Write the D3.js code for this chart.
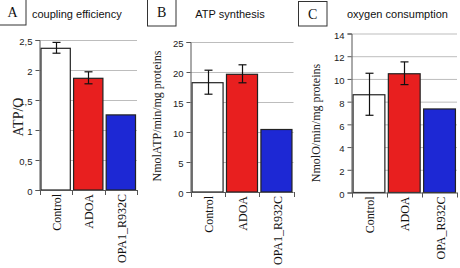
<!DOCTYPE html>
<html>
<head lang="en">
    <meta charset="UTF-8">
    <title></title>
    <script src="https://cdn.jsdelivr.net/npm/d3@7"></script>
    <style>
        body{margin:0;background:#fff;}
    </style>
</head>
<body>
</body>
</html>
<script>
    var catsAB=["Control","ADOA","OPA1_R932C"];
    var catsC=["Control","ADOA","OPA_R932C"];
    var couplingVal=[2.37,1.87,1.26];
    var couplingErr=[0.09,0.10,0];
    var atpVal=[18.3,19.7,10.5];
    var atpErr=[2.0,1.5,0];
    var oxyVal=[8.65,10.5,7.4];
    var oxyErr=[1.85,1.0,0];
    var couplingTicks=[0,0.5,1,1.5,2,2.5];
    var atpTicks=[0,5,10,15,20,25];
    var oxyTicks=[0,2,4,6,8,10,12,14];
    var colors=["#ffffff","#e81f1f","#1d28d4"];

    var panels=[
        {letter:"A",title:"coupling efficiency",ytitle:"ATP/O",cats:catsAB,val:couplingVal,err:couplingErr,ticks:couplingTicks,
            max:2.5,x0:39.5,x1:137,y0:190,y1:40,box:[-1,-1,27,26],titleX:32,titleAnchor:"start",ytX:18,ytY:117,ytSize:14},
        {letter:"B",title:"ATP synthesis",ytitle:"NmolATP/min/mg proteins",cats:catsAB,val:atpVal,err:atpErr,ticks:atpTicks,
            max:25,x0:190.5,x1:293.5,y0:192,y1:42,box:[147.5,-1,28.5,27],titleX:230,titleAnchor:"middle",ytX:157,ytY:116,ytSize:12},
        {letter:"C",title:"oxygen consumption",ytitle:"NmolO/min/mg proteins",cats:catsC,val:oxyVal,err:oxyErr,ticks:oxyTicks,
            max:14,x0:351.5,x1:457,y0:192.5,y1:33.5,box:[298.5,1.5,28.5,24.5],titleX:347,titleAnchor:"start",ytX:316,ytY:123,ytSize:12}
    ];

    var svg=d3.select('body').append('svg')
            .attr('width',460)
            .attr('height',268);

    panels.forEach(function(p){
        var g=svg.append('g');
        var x=d3.scaleBand().domain(p.cats).range([p.x0,p.x1]).paddingInner(0.07).paddingOuter(0.03);
        var y=d3.scaleLinear().domain([0,p.max]).range([p.y0,p.y1]);

        // gridlines
        g.selectAll('.grid').data(p.ticks.filter(function(t){return t>0;}))
                .enter().append('line')
                .attr('x1',p.x0).attr('x2',p.x1)
                .attr('y1',function(d){return y(d)+0.5;})
                .attr('y2',function(d){return y(d)+0.5;})
                .attr('stroke','#bdbdbd').attr('stroke-width',1);

        // bars
        g.selectAll('.bar').data(p.val).enter().append('rect')
                .attr('x',function(d,i){return x(p.cats[i])+0.5;})
                .attr('y',function(d){return y(d)+0.5;})
                .attr('width',x.bandwidth()-1)
                .attr('height',function(d){return p.y0-y(d)-0.5;})
                .attr('fill',function(d,i){return colors[i];})
                .attr('stroke','#222').attr('stroke-width',1.2);

        // error bars
        p.val.forEach(function(v,i){
            if(!p.err[i]) return;
            var cx=Math.round(x(p.cats[i])+x.bandwidth()/2)+0.5;
            var eg=g.append('g').attr('stroke','#111').attr('stroke-width',1.2);
            eg.append('line').attr('x1',cx).attr('x2',cx).attr('y1',y(v+p.err[i])).attr('y2',y(v-p.err[i]));
            eg.append('line').attr('x1',cx-4).attr('x2',cx+4).attr('y1',y(v+p.err[i])).attr('y2',y(v+p.err[i]));
            eg.append('line').attr('x1',cx-4).attr('x2',cx+4).attr('y1',y(v-p.err[i])).attr('y2',y(v-p.err[i]));
        });

        // y axis
        var yAxis=d3.axisLeft(y).tickValues(p.ticks).tickSize(4).tickPadding(3)
                .tickFormat(function(d){return String(d).replace('.',',');});
        var ya=g.append('g').attr('transform','translate('+p.x0+',0)').call(yAxis);
        ya.select('.domain').attr('stroke','#555');
        ya.selectAll('.tick line').attr('stroke','#555');
        ya.selectAll('text').attr('font-family','Liberation Sans, Arial, sans-serif')
                .attr('font-size',9.5).attr('fill','#222').attr('dy','0.5em');

        // x axis baseline with boundary ticks
        var xa=g.append('g');
        xa.append('line').attr('x1',p.x0).attr('x2',p.x1).attr('y1',p.y0+0.5).attr('y2',p.y0+0.5).attr('stroke','#555');
        var bounds=[p.x0].concat(p.cats.map(function(c){return x(c)+x.bandwidth()+x.step()*x.paddingInner()/2;}));
        xa.selectAll('.xt').data(bounds).enter().append('line')
                .attr('x1',function(d){return Math.round(d)+0.5;})
                .attr('x2',function(d){return Math.round(d)+0.5;})
                .attr('y1',p.y0).attr('y2',p.y0+5).attr('stroke','#555');
        xa.selectAll('.xl').data(p.cats).enter().append('text')
                .attr('transform',function(d){return 'translate('+(x(d)+x.bandwidth()/2+1)+','+(p.y0+4)+') rotate(-90)';})
                .attr('text-anchor','end').attr('dy','0.35em')
                .attr('font-family','Liberation Serif, Times New Roman, serif')
                .attr('font-size',12).attr('fill','#111')
                .text(function(d){return d;});

        // y title
        g.append('text')
                .attr('transform','translate('+p.ytX+','+p.ytY+') rotate(-90)')
                .attr('text-anchor','middle').attr('dy','0.35em')
                .attr('font-family','Liberation Serif, Times New Roman, serif')
                .attr('font-size',p.ytSize).attr('fill','#222')
                .text(p.ytitle);

        // letter box
        g.append('rect').attr('x',p.box[0]).attr('y',p.box[1]).attr('width',p.box[2]).attr('height',p.box[3])
                .attr('fill','#fff').attr('stroke','#333').attr('stroke-width',1);
        g.append('text').attr('x',p.box[0]+p.box[2]/2).attr('y',p.box[1]+p.box[3]/2)
                .attr('text-anchor','middle').attr('dy','0.35em')
                .attr('font-family','Liberation Serif, Times New Roman, serif')
                .attr('font-size',14).attr('fill','#111')
                .text(p.letter);

        // panel title
        g.append('text').attr('x',p.titleX).attr('y',18)
                .attr('text-anchor',p.titleAnchor)
                .attr('font-family','Liberation Sans, Arial, sans-serif')
                .attr('font-size',11).attr('fill','#111')
                .text(p.title);
    });
</script>
